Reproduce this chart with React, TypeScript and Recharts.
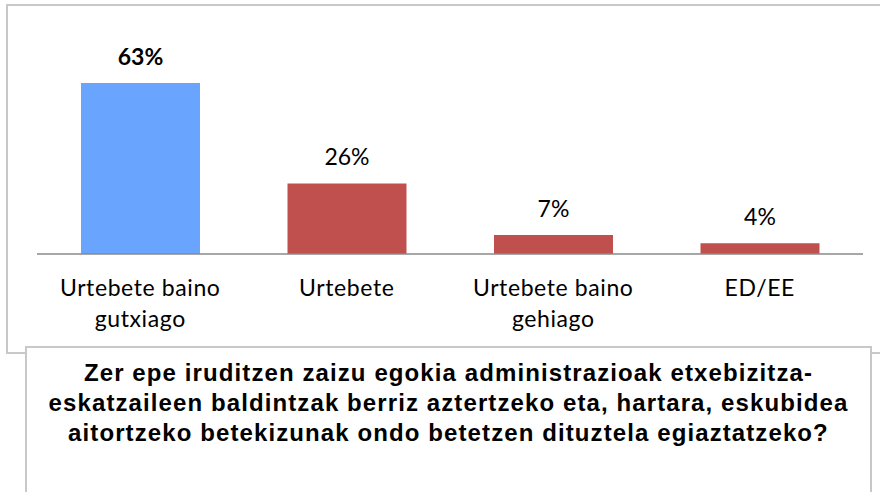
import { Bar, BarChart, Cell, XAxis, YAxis } from "recharts";

const categories = ["Urtebete baino gutxiago", "Urtebete", "Urtebete baino gehiago", "ED/EE"];
const shares = [63, 26, 7, 4];
const barColors = ["#69A5FF", "#C0504D", "#C0504D", "#C0504D"];
const question =
  "Zer epe iruditzen zaizu egokia administrazioak etxebizitza-eskatzaileen baldintzak berriz aztertzeko eta, hartara, eskubidea aitortzeko betekizunak ondo betetzen dituztela egiaztatzeko?";
const questionLines = [
  "Zer epe iruditzen zaizu egokia administrazioak etxebizitza-",
  "eskatzaileen baldintzak berriz aztertzeko eta, hartara, eskubidea",
  "aitortzeko betekizunak ondo betetzen dituztela egiaztatzeko?",
];

const rows = categories.map((name, i) => ({ name, value: shares[i] }));

const labelFont = "Lato, 'Open Sans', sans-serif";

// split a category name into lines of at most ~15 chars
function wrap(text: string, max = 15) {
  const out: string[] = [];
  let cur = "";
  for (const w of text.split(" ")) {
    const next = cur ? cur + " " + w : w;
    if (next.length > max && cur) {
      out.push(cur);
      cur = w;
    } else cur = next;
  }
  if (cur) out.push(cur);
  return out;
}

function CategoryTick(props: any) {
  const { x, y, payload } = props;
  const lines = wrap(String(payload.value));
  return (
    <text
      x={x}
      y={y}
      textAnchor="middle"
      fontFamily={labelFont}
      fontSize={23}
      letterSpacing={0.6}
      fill="#000"
    >
      {lines.map((l, i) => (
        <tspan key={i} x={x} dy={i === 0 ? 42 : 31}>
          {l}
        </tspan>
      ))}
    </text>
  );
}

function ValueLabel(props: any) {
  const { x, y, width, value, index } = props;
  return (
    <text
      x={x + width / 2}
      y={y - 18}
      textAnchor="middle"
      fontFamily={labelFont}
      fontSize={23}
      fontWeight={index === 0 ? 700 : 400}
      fill="#000"
    >
      {`${value}%`}
    </text>
  );
}

export default function App() {
  return (
    <div
      style={{
        position: "absolute",
        left: 0,
        top: 0,
        width: 880,
        height: 492,
        overflow: "hidden",
        background: "#fff",
      }}
    >
      <div
        style={{
          position: "absolute",
          left: 6,
          top: 4,
          width: 920,
          height: 350,
          boxSizing: "border-box",
          border: "2px solid #C8C8C8",
        }}
      />
      <div style={{ position: "absolute", left: 0, top: 0 }}>
        <BarChart
          width={880}
          height={360}
          data={rows}
          margin={{ top: 64, right: 17, bottom: 46, left: 37 }}
        >
          <XAxis
            dataKey="name"
            height={60}
            tickLine={false}
            tickSize={0}
            tickMargin={0}
            interval={0}
            stroke="#8A8A8A"
            strokeWidth={1.5}
            tick={<CategoryTick />}
          />
          <YAxis hide domain={[0, 70]} />
          <Bar dataKey="value" barSize={119} isAnimationActive={false} label={<ValueLabel />}>
            {rows.map((r, i) => (
              <Cell key={r.name} fill={barColors[i]} />
            ))}
          </Bar>
        </BarChart>
      </div>
      <div
        title={question}
        style={{
          position: "absolute",
          left: 25,
          top: 346,
          width: 847,
          height: 200,
          boxSizing: "border-box",
          border: "2px solid #C8C8C8",
          background: "#fff",
          paddingTop: 10,
          textAlign: "center",
          fontFamily: "'Liberation Sans', Arial, sans-serif",
          fontWeight: 700,
          fontSize: 24,
          lineHeight: "30px",
          letterSpacing: 1.1,
          color: "#000",
        }}
      >
        {questionLines.map((l) => (
          <div key={l}>{l}</div>
        ))}
      </div>
    </div>
  );
}
